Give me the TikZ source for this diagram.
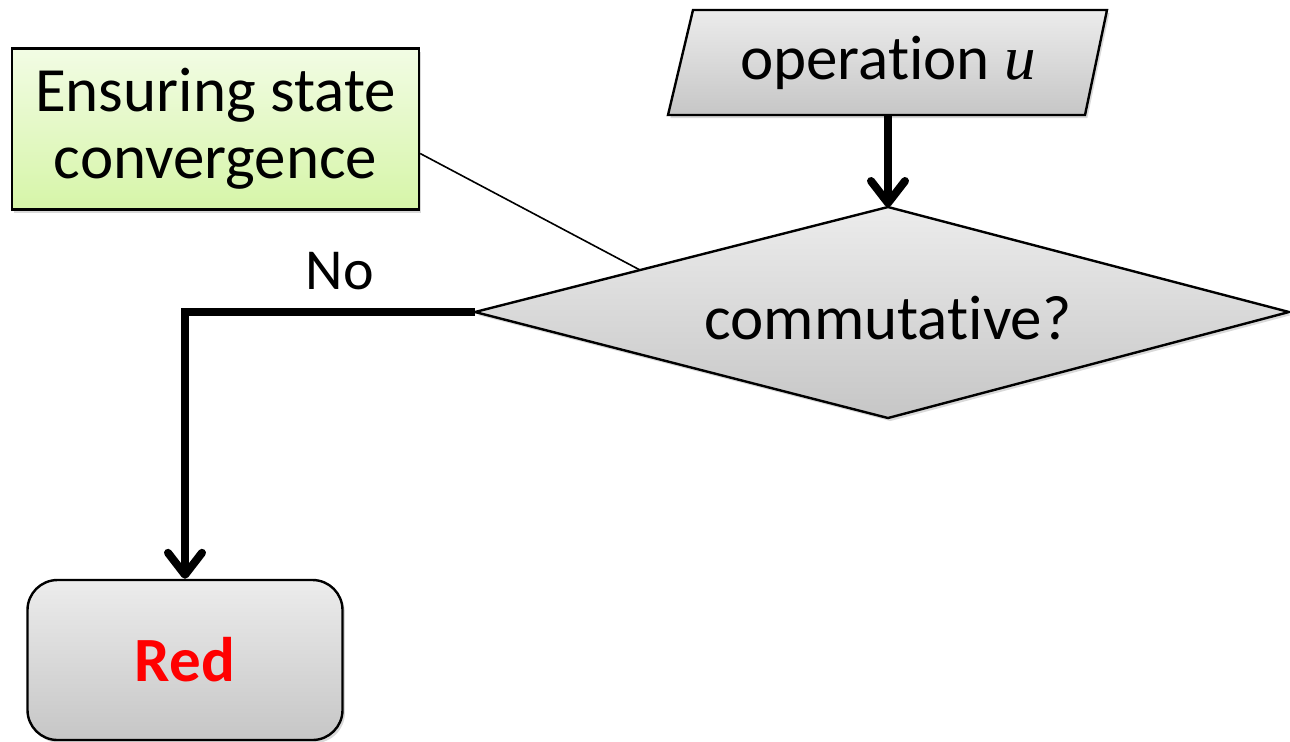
\documentclass[tikz,border=0pt]{standalone}
\usepackage{fontspec}
\setmainfont{Carlito}[Ligatures={NoCommon}]
\newfontfamily\varfont{Liberation Serif}
\usetikzlibrary{arrows.meta,calc,shadows}

\definecolor{notetop}{RGB}{242,252,228}
\definecolor{notebot}{RGB}{214,245,168}
\definecolor{greytop}{RGB}{236,236,236}
\definecolor{greybot}{RGB}{198,198,198}

\tikzset{
  shade/.style={drop shadow={opacity=0.3,shadow xshift=1.2pt,shadow yshift=-1.5pt}},
  greyfill/.style={top color=greytop,bottom color=greybot},
  outline/.style={draw=black,line width=1.2pt},
  lbl/.style={font=\fontsize{31.5}{33.5}\selectfont,inner sep=0pt,align=center},
  conn/.style={line width=4pt,-{Straight Barb[length=11pt,width=17pt,round]}},
}

\begin{document}
\begin{tikzpicture}[x=0.5pt,y=-0.5pt]
\useasboundingbox (0,0) rectangle (1290,741);

% input parallelogram
\path[outline,greyfill,shade] (693,10) -- (1107,10) -- (1085,115) -- (668,115) -- cycle;
\node[lbl,minimum width=200pt,minimum height=52.5pt] (op) at (888,62.5)
  {operation {\varfont\itshape u}};

% decision diamond
\path[outline,greyfill,shade] (475,312) -- (888,207) -- (1289,312) -- (888,418) -- cycle;
\coordinate (decw) at (475,312);
\coordinate (decn) at (888,207);
\node[lbl] (dec) at (888,318) {commutative?};

% note box
\node[outline,top color=notetop,bottom color=notebot,shade,
      minimum width=203.5pt,minimum height=80.5pt,inner sep=0pt,
      lbl] (note) at (215.5,129) {Ensuring state\\convergence};

% result box
\node[outline,greyfill,shade,rounded corners=15pt,
      minimum width=157.5pt,minimum height=80pt,inner sep=0pt,
      font=\fontsize{31.5}{33}\selectfont\bfseries,text=red] (red) at (185,660) {Red};

% connectors
\draw[conn] (op.south) -- (decn);
\draw[conn] (decw) -| (red.north);
\node[font=\fontsize{29}{31}\selectfont,inner sep=0pt] (no) at (340,271) {No};

% callout line
\coordinate (tip) at (640,270);
\draw[line width=0.8pt] ($(note.south east)!0.35!(note.north east)$) -- (tip);
\end{tikzpicture}
\end{document}
